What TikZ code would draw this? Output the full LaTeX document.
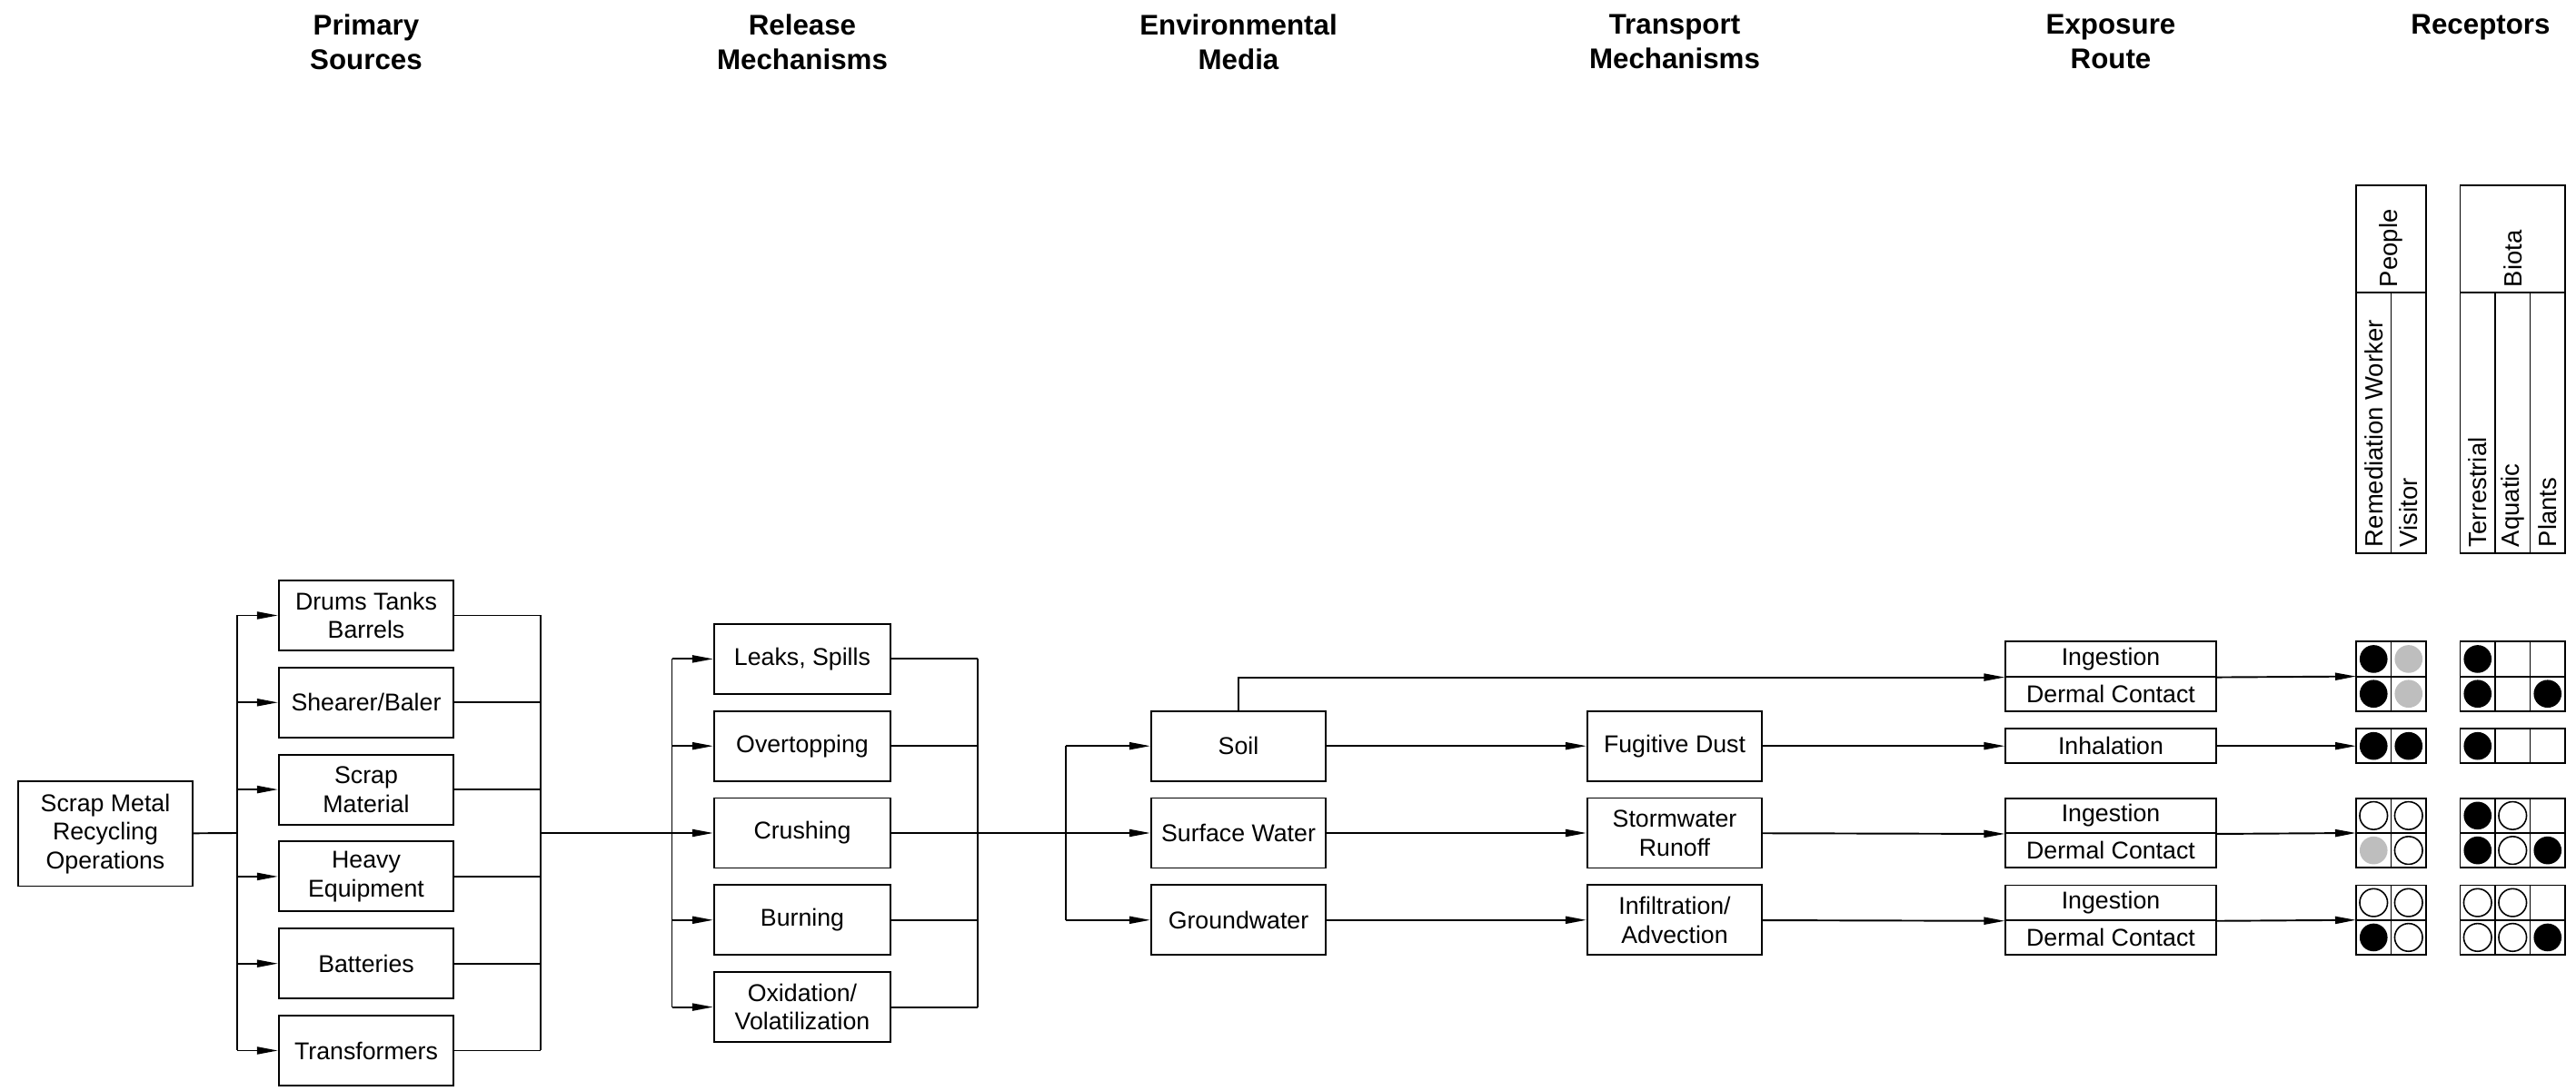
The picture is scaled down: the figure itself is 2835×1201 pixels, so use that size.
\documentclass[tikz,border=0pt]{standalone}
\usepackage{fontspec}
\setmainfont{Liberation Sans}
\definecolor{dotGray}{RGB}{190,190,190}
\usetikzlibrary{arrows.meta, calc}

\begin{document}
\begin{tikzpicture}[x=0.01cm, y=-0.01cm, line width=0.55pt,
    every node/.style={font=\fontsize{7.6}{9}\selectfont},
    box/.style={draw, minimum width=1.92cm, minimum height=0.77cm, align=center, inner sep=1pt},
    half/.style={draw, minimum width=2.31cm, minimum height=0.383cm, inner sep=1pt},
    hdr/.style={font=\bfseries\fontsize{8.9}{10.8}\selectfont, align=center, anchor=north, inner sep=0pt},
    rlabel/.style={rotate=90, anchor=west, inner sep=0pt, font=\fontsize{7.8}{9}\selectfont},
    arr/.style={-{Triangle[length=0.23cm, width=0.08cm]}},
    blk/.style={fill=black}, gry/.style={fill=dotGray},
    opn/.style={draw, fill=white, line width=0.45pt}, non/.style={}]
  \useasboundingbox (0,0) rectangle (2835,1201);

  % column headers
  \node[hdr] (hsrc) at (403,15) {Primary\\Sources};
  \node[hdr] (hrel) at (883,15) {Release\\Mechanisms};
  \node[hdr] (henv) at (1363,15) {Environmental\\Media};
  \node[hdr] (htra) at (1843,15) {Transport\\Mechanisms};
  \node[hdr] (hexp) at (2323,15) {Exposure\\Route};
  \node[hdr] (hrec) at (2730,15) {Receptors};

  % sources
  \node[box, minimum height=1.15cm] (scrap) at (116,918) {Scrap Metal\\Recycling\\Operations};
  \node[box] (drums) at (403,677.5) {Drums Tanks\\Barrels};
  \node[box] (shear) at (403,773.3) {Shearer/Baler};
  \node[box] (scrapmat) at (403,869.1) {Scrap\\Material};
  \node[box] (heavy) at (403,964.9) {Heavy\\Equipment};
  \node[box] (batt) at (403,1060.7) {Batteries};
  \node[box] (transf) at (403,1156.5) {Transformers};

  % release mechanisms
  \node[box, minimum width=1.94cm] (leaks) at (883,725.4) {Leaks, Spills};
  \node[box, minimum width=1.94cm] (overtop) at (883,821.2) {Overtopping};
  \node[box, minimum width=1.94cm] (crush) at (883,917) {Crushing};
  \node[box, minimum width=1.94cm] (burn) at (883,1012.8) {Burning};
  \node[box, minimum width=1.94cm] (oxid) at (883,1108.6) {Oxidation/\\Volatilization};

  % media and transport
  \node[box] (soil) at (1363,821.2) {Soil};
  \node[box] (surfw) at (1363,917) {Surface Water};
  \node[box] (gw) at (1363,1012.8) {Groundwater};
  \node[box] (dust) at (1843,821.2) {Fugitive Dust};
  \node[box] (storm) at (1843,917) {Stormwater\\Runoff};
  \node[box] (infil) at (1843,1012.8) {Infiltration/\\Advection};

  % exposure routes
  \node[half] (ingA) at (2323,725.45) {Ingestion};
  \node[half] (derA) at (2323,763.75) {Dermal Contact};
  \node[half] (inh) at (2323,821.2) {Inhalation};
  \node[half] (ingB) at (2323,897.85) {Ingestion};
  \node[half] (derB) at (2323,936.15) {Dermal Contact};
  \node[half] (ingC) at (2323,993.65) {Ingestion};
  \node[half] (derC) at (2323,1031.95) {Dermal Contact};

  % buses
  \coordinate (srcbus) at (261,917);
  \coordinate (srcout) at (595,917);
  \coordinate (relbus) at (739.5,917);
  \coordinate (relout) at (1076,917);
  \coordinate (envbus) at (1173,917);

  \draw (scrap) -- (srcbus);
  \draw (srcbus |- drums) -- (srcbus |- transf);
  \draw (srcout |- drums) -- (srcout |- transf);
  \foreach \s in {drums, shear, scrapmat, heavy, batt, transf} {
    \draw[arr] (srcbus |- \s) -- (\s);
    \draw (\s) -- (srcout |- \s);
  }
  \draw (srcout) -- (relbus);
  \draw (relbus |- leaks) -- (relbus |- oxid);
  \draw (relout |- leaks) -- (relout |- oxid);
  \foreach \r in {leaks, overtop, crush, burn, oxid} {
    \draw[arr] (relbus |- \r) -- (\r);
    \draw (\r) -- (relout |- \r);
  }
  \draw (relout) -- (envbus);
  \draw (envbus |- soil) -- (envbus |- gw);
  \foreach \m in {soil, surfw, gw}
    \draw[arr] (envbus |- \m) -- (\m);

  \draw[arr] (soil) -- (dust);
  \draw[arr] (surfw) -- (storm);
  \draw[arr] (gw) -- (infil);
  \draw[arr] (soil.north) |- (ingA.south west);
  \draw[arr] (dust) -- (inh);
  \draw[arr] (storm) -- (ingB.south west);
  \draw[arr] (infil) -- (ingC.south west);

  % receptors
  \coordinate (recA) at (2593,744.6);
  \coordinate (recI) at (2593,821.2);
  \coordinate (recB) at (2593,917);
  \coordinate (recC) at (2593,1012.8);
  \draw[arr] (ingA.south east) -- (recA);
  \draw[arr] (inh) -- (recI);
  \draw[arr] (ingB.south east) -- (recB);
  \draw[arr] (ingC.south east) -- (recC);

  \draw (2593,204) rectangle (2670,322);
  \draw (2593,322) rectangle (2670,609);
  \draw (2631.5,322) -- (2631.5,609);
  \draw (2707.5,204) rectangle (2823,322);
  \draw (2707.5,322) rectangle (2823,609);
  \draw (2746,322) -- (2746,609);
  \draw (2784.5,322) -- (2784.5,609);
  \node[rlabel] (people) at (2631.5,317) {People};
  \node[rlabel] (remw) at (2612.25,603) {Remediation Worker};
  \node[rlabel] (visit) at (2650.75,603) {Visitor};
  \node[rlabel] (biota) at (2765.25,317) {Biota};
  \node[rlabel] (terr) at (2726.75,603) {Terrestrial};
  \node[rlabel] (aqua) at (2765.25,603) {Aquatic};
  \node[rlabel] (plant) at (2803.75,603) {Plants};

  \foreach \yc/\pa/\pb/\ba/\bb/\bc in {725.45/blk/gry/blk/non/non, 763.75/blk/gry/blk/non/blk,
      821.2/blk/blk/blk/non/non, 897.85/opn/opn/blk/opn/non, 936.15/gry/opn/blk/opn/blk,
      993.65/opn/opn/opn/opn/non, 1031.95/blk/opn/opn/opn/blk} {
    \draw (2593,\yc-19.15) rectangle (2670,\yc+19.15);
    \draw (2631.5,\yc-19.15) -- (2631.5,\yc+19.15);
    \draw (2707.5,\yc-19.15) rectangle (2823,\yc+19.15);
    \draw (2746,\yc-19.15) -- (2746,\yc+19.15);
    \draw (2784.5,\yc-19.15) -- (2784.5,\yc+19.15);
    \path[\pa] (2612.25,\yc) circle[radius=0.153cm];
    \path[\pb] (2650.75,\yc) circle[radius=0.153cm];
    \path[\ba] (2726.75,\yc) circle[radius=0.153cm];
    \path[\bb] (2765.25,\yc) circle[radius=0.153cm];
    \path[\bc] (2803.75,\yc) circle[radius=0.153cm];
  }
\end{tikzpicture}
\end{document}
